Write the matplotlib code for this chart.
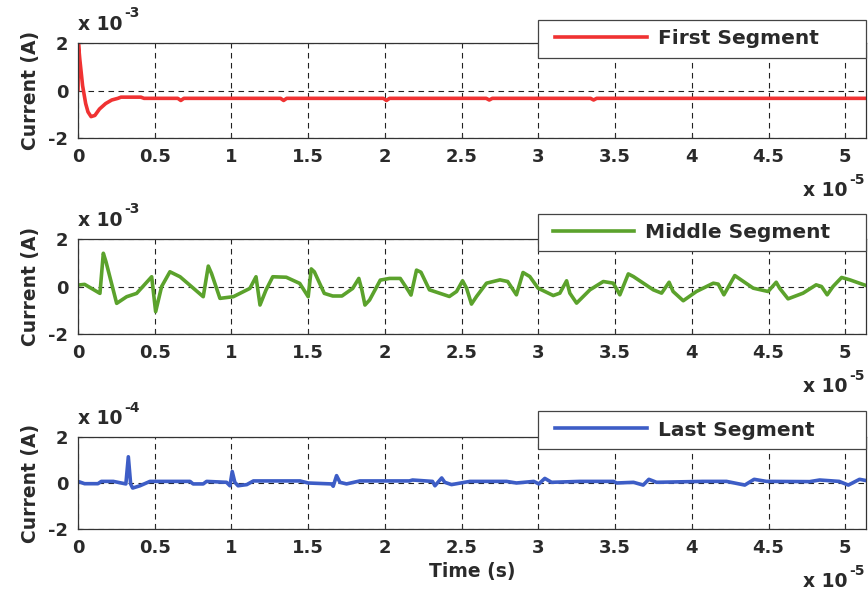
import matplotlib
matplotlib.use("Agg")
import matplotlib.pyplot as plt
from matplotlib.lines import Line2D
from matplotlib.legend_handler import HandlerLine2D

plt.rcParams["font.family"] = ["DejaVu Sans"]
plt.rcParams["font.weight"] = "bold"
plt.rcParams["axes.labelweight"] = "bold"

# time in units of 1e-5 s
t_first = [0, 0.003, 0.012, 0.03, 0.05, 0.065, 0.085, 0.11, 0.14, 0.18, 0.22, 0.26, 0.28,
           0.41, 0.43, 0.65, 0.67, 0.69, 1.32, 1.34, 1.36, 1.99, 2.01, 2.03,
           2.66, 2.68, 2.70, 3.34, 3.36, 3.38, 5.14]
# current in units of 1e-3 A
i_first = [0, 1.95, 1.3, 0.2, -0.55, -0.9, -1.1, -1.05, -0.78, -0.55, -0.4, -0.33, -0.28,
           -0.28, -0.33, -0.33, -0.42, -0.33, -0.33, -0.42, -0.33, -0.33, -0.42, -0.33,
           -0.33, -0.4, -0.33, -0.33, -0.4, -0.33, -0.33]

t_middle = [0, 0.043, 0.143, 0.165, 0.182, 0.252, 0.317, 0.382, 0.48, 0.506, 0.545, 0.599,
            0.665, 0.816, 0.849, 0.87, 0.925, 1.012, 1.12, 1.16, 1.186, 1.225, 1.269, 1.357,
            1.445, 1.5, 1.52, 1.54, 1.605, 1.66, 1.72, 1.79, 1.83, 1.85, 1.87, 1.9, 1.97,
            2.03, 2.1, 2.15, 2.17, 2.206, 2.235, 2.29, 2.42, 2.467, 2.506, 2.532, 2.564,
            2.597, 2.662, 2.75, 2.80, 2.857, 2.9, 2.944, 2.998, 3.097, 3.14, 3.184, 3.205,
            3.249, 3.336, 3.423, 3.488, 3.531, 3.586, 3.619, 3.749, 3.803, 3.852, 3.878,
            3.944, 4.03, 4.14, 4.172, 4.209, 4.28, 4.40, 4.497, 4.55, 4.572, 4.627, 4.725,
            4.81, 4.845, 4.882, 4.92, 4.976, 5.03, 5.14]
# current in units of 1e-3 A
i_middle = [0.06, 0.09, -0.29, 1.40, 1.05, -0.71, -0.43, -0.29, 0.41, -1.06, 0.0, 0.62,
            0.41, -0.43, 0.86, 0.55, -0.5, -0.43, -0.08, 0.41, -0.78, -0.15, 0.41, 0.39,
            0.13, -0.43, 0.74, 0.62, -0.29, -0.4, -0.4, -0.08, 0.34, -0.15, -0.78, -0.57,
            0.27, 0.34, 0.34, -0.15, -0.36, 0.69, 0.6, -0.14, -0.42, -0.21, 0.24, -0.07,
            -0.74, -0.42, 0.14, 0.28, 0.21, -0.35, 0.59, 0.42, -0.07, -0.38, -0.28, 0.24,
            -0.28, -0.7, -0.14, 0.21, 0.14, -0.35, 0.53, 0.42, -0.14, -0.28, 0.18, -0.21,
            -0.6, -0.21, 0.14, 0.1, -0.35, 0.46, -0.07, -0.21, 0.18, -0.07, -0.52, -0.28,
            0.07, 0.0, -0.35, 0.0, 0.38, 0.28, 0.03]

t_last = [0, 0.043, 0.13, 0.152, 0.23, 0.312, 0.328, 0.343, 0.356, 0.404, 0.469, 0.73,
          0.75, 0.816, 0.838, 0.968, 0.99, 1.005, 1.022, 1.043, 1.1, 1.143, 1.447, 1.5,
          1.652, 1.663, 1.685, 1.707, 1.75, 1.837, 2.16, 2.18, 2.31, 2.326, 2.37, 2.39,
          2.434, 2.554, 2.793, 2.857, 2.97, 3.003, 3.042, 3.086, 3.27, 3.49, 3.51, 3.62,
          3.683, 3.72, 3.77, 4.07, 4.226, 4.345, 4.406, 4.486, 4.768, 4.833, 4.96, 5.02,
          5.093, 5.14]
# current in units of 1e-4 A
i_last = [0.07, -0.03, -0.03, 0.07, 0.07, -0.04, 1.14, -0.04, -0.22, -0.12, 0.07, 0.07,
          -0.04, -0.04, 0.07, 0.03, -0.12, 0.5, 0.03, -0.12, -0.07, 0.09, 0.09, 0.0,
          -0.04, -0.14, 0.32, 0.03, -0.04, 0.09, 0.09, 0.13, 0.07, -0.12, 0.22, 0.03,
          -0.07, 0.07, 0.07, 0.0, 0.07, -0.04, 0.2, 0.03, 0.07, 0.07, 0.0, 0.03,
          -0.09, 0.16, 0.03, 0.07, 0.07, -0.09, 0.16, 0.07, 0.06, 0.13, 0.07, -0.09,
          0.16, 0.1]

series = [
    (t_first, i_first, "#f03232", "First Segment", "-3"),
    (t_middle, i_middle, "#5ba22c", "Middle Segment", "-3"),
    (t_last, i_last, "#3d5dc6", "Last Segment", "-4"),
]

x_ticks = [0, 0.5, 1, 1.5, 2, 2.5, 3, 3.5, 4, 4.5, 5]
x_tick_labels = ["0", "0.5", "1", "1.5", "2", "2.5", "3", "3.5", "4", "4.5", "5"]
y_ticks = [-2, 0, 2]
y_tick_labels = ["-2", "0", "2"]

W, H = 868, 594
fig = plt.figure(figsize=(W / 100, H / 100), dpi=100)
txt = "#2a2a2a"
fs = 13.5

# axes boxes in pixels: (left, top, right, bottom)
boxes = [(78, 43, 866, 138), (78, 239, 866, 334), (78, 437, 866, 529)]
legend_boxes = [(538, 21, 866, 57), (538, 214, 866, 251), (538, 412, 866, 448)]
leg_fs = 14.5
leg_px = leg_fs * 100 / 72
# legend sample geometry in pixels: (left gap, line length, gap to text)
legend_geom = [(17, 92, 11), (15, 81, 11), (17, 92, 11)]


def scale_note(ax, x, y, expo, transform):
    """Write an 'x 10^expo' multiplier note with its lower-left corner at (x, y)."""
    base = ax.text(x, y, "x 10", transform=transform, fontsize=fs,
                   color=txt, ha="left", va="bottom")
    ax.annotate(expo, xy=(1.0, 0.7), xycoords=base, xytext=(1, 0),
                textcoords="offset points", fontsize=10, color=txt,
                ha="left", va="bottom", annotation_clip=False)


for k, ((t, cur, col, name, expo), (l, tp, r, b), (ll, lt, lr, lb), (gap, llen, tgap)) in enumerate(
        zip(series, boxes, legend_boxes, legend_geom)):
    ax = fig.add_axes([l / W, 1 - b / H, (r - l) / W, (b - tp) / H])
    ax.plot(t, cur, color=col, lw=2.6, solid_joinstyle="round", solid_capstyle="round")
    ax.set_xlim(0, 5.135)
    ax.set_ylim(-2, 2)
    ax.set_xticks(x_ticks)
    ax.set_xticklabels(x_tick_labels)
    ax.set_yticks(y_ticks)
    ax.set_yticklabels(y_tick_labels)
    ax.tick_params(direction="in", length=3, width=0.8, colors="#333333",
                   labelcolor=txt, labelsize=13, pad=7)
    ax.grid(True, color="#222222", linestyle=(0, (5, 4)), linewidth=0.8)
    for s in ax.spines.values():
        s.set_color("#333333")
        s.set_linewidth(0.9)
    ax.set_ylabel("Current (A)", fontsize=fs, color=txt, labelpad=6, fontweight="bold")

    scale_note(ax, 0.0, 1.1, expo, ax.transAxes)
    scale_note(ax, 803 / W, 1 - (b + 62) / H, "-5", fig.transFigure)

    if k == 2:
        ax.set_xlabel("Time (s)", fontsize=fs, color=txt, labelpad=4, fontweight="bold")

    pad = (gap - 0.45 * leg_px) / leg_px
    handle = Line2D([], [], color=col, lw=2.6)
    leg = ax.legend([handle], [name], loc="center",
                    bbox_to_anchor=(ll / W, 1 - lb / H, (lr - ll) / W, (lb - lt) / H),
                    bbox_transform=fig.transFigure, mode="expand", borderaxespad=0,
                    fancybox=False, framealpha=1, edgecolor="#444444",
                    handlelength=(llen / leg_px) + pad, handletextpad=tgap / leg_px,
                    borderpad=0.45,
                    handler_map={Line2D: HandlerLine2D(xpad=pad)},
                    prop={"size": leg_fs, "weight": "bold"})
    leg.get_frame().set_linewidth(0.9)
    for tx in leg.get_texts():
        tx.set_color(txt)

fig.savefig("out.png", dpi=100)
